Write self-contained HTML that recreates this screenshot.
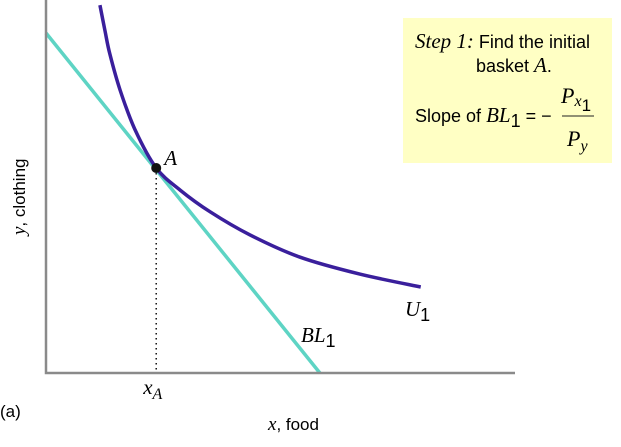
<!DOCTYPE html>
<html><head><meta charset="utf-8"><style>
body{margin:0;background:#fff;}
svg{display:block;}
.it{font-family:"Liberation Serif",serif;font-style:italic;}
.sa{font-family:"Liberation Sans",sans-serif;}
</style></head><body>
<svg id="chart" width="621" height="447" viewBox="0 0 621 447">
<rect x="403" y="18" width="209" height="145" fill="#ffffc4"/>
<g>
<text x="415" y="48"><tspan class="it" font-size="21">Step 1:</tspan><tspan class="sa" font-size="18"> Find the initial</tspan></text>
<text x="476" y="72"><tspan class="sa" font-size="18">basket </tspan><tspan class="it" font-size="21">A</tspan><tspan class="sa" font-size="18">.</tspan></text>
<text x="415" y="122"><tspan class="sa" font-size="18">Slope of </tspan><tspan class="it" font-size="21">BL</tspan><tspan class="sa" font-size="18" dy="5">1</tspan><tspan class="sa" font-size="18" dy="-5"> = −</tspan></text>
<line x1="562" y1="116" x2="594" y2="116" stroke="#222" stroke-width="1"/>
<text x="561" y="103"><tspan class="it" font-size="22">P</tspan><tspan class="it" dy="3" font-size="16">x</tspan><tspan class="sa" dy="5" font-size="17">1</tspan></text>
<text x="567" y="146"><tspan class="it" font-size="22">P</tspan><tspan class="it" dy="5" font-size="16">y</tspan></text>
</g>
<g id="plot"></g>
<text x="0" y="417" class="sa" font-size="17">(a)</text>
<text x="268" y="430"><tspan class="it" font-size="19">x</tspan><tspan class="sa" font-size="17">, food</tspan></text>
<text transform="translate(25,235) rotate(-90)"><tspan class="it" font-size="19">y</tspan><tspan class="sa" font-size="17">, clothing</tspan></text>
</svg>
<script>
const blX = [0, 5.84];
const blY = [10, 0];
const uX = [1.15,1.26,1.36,1.58,1.90,2.35,2.86,3.50,4.35,5.41,6.69,7.99];
const uY = [10.82,10.05,9.39,8.32,7.15,6.03,5.38,4.74,4.06,3.41,2.91,2.53];
const pointA = [2.35, 6.03];

const sx = v => 46 + v * 46.9;
const sy = v => 373 - v * 34;
const NS = 'http://www.w3.org/2000/svg';
const g = document.getElementById('plot');
function mk(tag, attrs){const e=document.createElementNS(NS,tag);for(const k in attrs)e.setAttribute(k,attrs[k]);g.appendChild(e);return e;}

const dot = mk('line',{x1:sx(pointA[0]),y1:sy(pointA[1]),x2:sx(pointA[0]),y2:373,stroke:'#111','stroke-width':1.5,'stroke-dasharray':'1.5,3.5'});



const bl = mk('line',{x1:sx(blX[0]),y1:sy(blY[0]),x2:sx(blX[1]),y2:sy(blY[1]),stroke:'#5ed4c4','stroke-width':3.5});



const P = uX.map((x,i)=>[sx(x),sy(uY[i])]);
let d = 'M'+P[0][0]+','+P[0][1];
for(let i=0;i<P.length-1;i++){
  const p0=P[Math.max(0,i-1)], p1=P[i], p2=P[i+1], p3=P[Math.min(P.length-1,i+2)];
  const c1=[p1[0]+(p2[0]-p0[0])/6, p1[1]+(p2[1]-p0[1])/6];
  const c2=[p2[0]-(p3[0]-p1[0])/6, p2[1]-(p3[1]-p1[1])/6];
  d+=' C'+c1.join(',')+' '+c2.join(',')+' '+p2.join(',');
}
const u = mk('path',{d:d,fill:'none',stroke:'#3a1f9c','stroke-width':3.5});



const ax = mk('polyline',{points:'46,0 46,373 515,373',fill:'none',stroke:'#8a8a8a','stroke-width':2.5});



const pa = mk('circle',{cx:sx(pointA[0]),cy:sy(pointA[1]),r:5,fill:'#111'});



function txt(x,y,html,name){const t=mk('text',{x:x,y:y,'font-size':20});t.innerHTML=html;return t;}
txt(sx(pointA[0])+8, sy(pointA[1])-3, '<tspan class="it" font-size="21">A</tspan>', 'point-a-label');
txt(sx(pointA[0])-13, 394, '<tspan class="it" font-size="21">x</tspan><tspan class="it" font-size="16" dy="5">A</tspan>', 'xa-label');
txt(301, 342, '<tspan class="it" font-size="21">BL</tspan><tspan class="sa" font-size="18" dy="5">1</tspan>', 'bl1-label');
txt(405, 316, '<tspan class="it" font-size="21">U</tspan><tspan class="sa" font-size="18" dy="5">1</tspan>', 'u1-label');
</script>
</body></html>
